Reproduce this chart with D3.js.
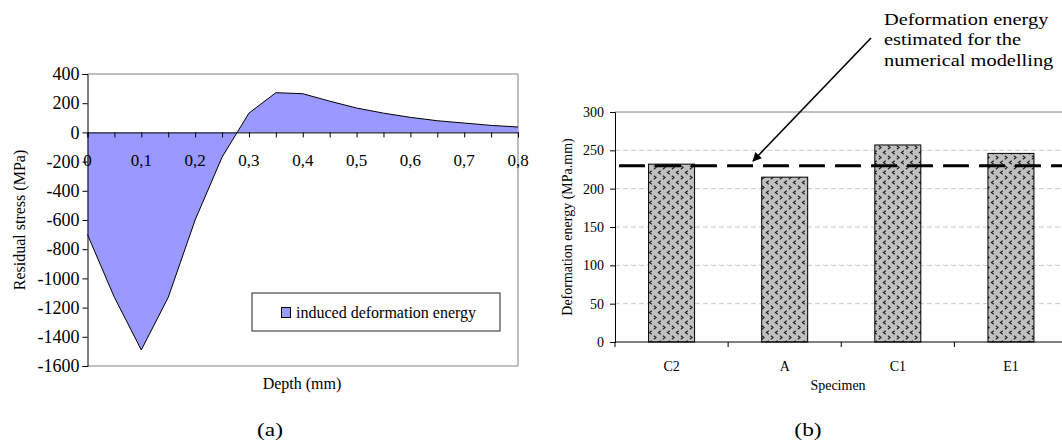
<!DOCTYPE html>
<html>
<head>
<meta charset="utf-8">
<script src="https://cdn.jsdelivr.net/npm/d3@7"></script>
<style>
  html, body { margin: 0; padding: 0; background: #fff; }
  svg { display: block; }
  text { font-family: "Liberation Serif", "Times New Roman", serif; fill: #000; }
</style>
</head>
<body>
<svg id="fig" width="1062" height="442"></svg>
<script>
// ---- (a) residual stress profile ----
const depth = [0, 0.05, 0.1, 0.15, 0.2, 0.25, 0.3, 0.35, 0.4, 0.45, 0.5, 0.55, 0.6, 0.65, 0.7, 0.75, 0.8];
const stress = [-700, -1130, -1490, -1130, -600, -170, 132, 272, 265, 214, 167, 132, 103, 80, 64, 48, 37];
const depthLabels = ["0", "0,1", "0,2", "0,3", "0,4", "0,5", "0,6", "0,7", "0,8"];
const depthLabelValues = [0, 0.1, 0.2, 0.3, 0.4, 0.5, 0.6, 0.7, 0.8];
const stressTicks = [400, 200, 0, -200, -400, -600, -800, -1000, -1200, -1400, -1600];

// ---- (b) deformation energy per specimen ----
const specimens = ["C2", "A", "C1", "E1"];
const energy = [232, 215, 257, 246];
const estimatedEnergy = 230;
const energyTicks = [0, 50, 100, 150, 200, 250, 300];
const noteLines = ["Deformation energy", "estimated for the", "numerical modelling"];

const svg = d3.select("#fig");

// pattern used to fill the bars
const defs = svg.append("defs");
const pat = defs.append("pattern")
  .attr("id", "chev").attr("patternUnits", "userSpaceOnUse")
  .attr("width", 9).attr("height", 10);
pat.append("rect").attr("width", 9).attr("height", 10).attr("fill", "#c0c0c0");
pat.append("path").attr("d", "M3.8,0.8 L1.4,2.5 L3.8,4.2").attr("fill", "none").attr("stroke", "#1a1a1a").attr("stroke-width", 1.1);
pat.append("path").attr("d", "M5.8,5.8 L8.2,7.5 L5.8,9.2").attr("fill", "none").attr("stroke", "#1a1a1a").attr("stroke-width", 1.1);

defs.append("marker").attr("id", "arrowhead")
  .attr("viewBox", "0 0 10 10").attr("refX", 9).attr("refY", 5)
  .attr("markerWidth", 11).attr("markerHeight", 9).attr("markerUnits", "userSpaceOnUse")
  .attr("orient", "auto")
  .append("path").attr("d", "M0,0 L10,5 L0,10 Z").attr("fill", "#000");

// =============== chart (a) ===============
const xA = d3.scaleLinear().domain([0, 0.8]).range([87.5, 518]);
const yA = d3.scaleLinear().domain([-1600, 400]).range([366, 74]);
const gA = svg.append("g");

// plot area frame
gA.append("path")
  .attr("d", `M${xA(0)},${yA(400)} H${xA(0.8)} V${yA(-1600)} H${xA(0)}`)
  .attr("fill", "none").attr("stroke", "#808080").attr("stroke-width", 1);

const area = d3.area().x((d, i) => xA(depth[i])).y0(yA(0)).y1(d => yA(d));
const line = d3.line().x((d, i) => xA(depth[i])).y(d => yA(d));
gA.append("path").attr("d", area(stress)).attr("fill", "#9999ff");
gA.append("path").attr("d", line(stress)).attr("fill", "none").attr("stroke", "#000").attr("stroke-width", 1);

// y axis
const yAxisA = d3.axisLeft(yA).tickValues(stressTicks).tickSize(5).tickPadding(3).tickFormat(d3.format("d"));
const gy = gA.append("g").attr("transform", `translate(${xA(0)},0)`).call(yAxisA);
gy.select(".domain").attr("stroke", "#000");
gy.selectAll("text").style("font-size", "18px").style("font-family", "Liberation Serif").attr("fill", "#000").text(d => d < 0 ? "-" + Math.abs(d) : d);

// x axis on the zero line: ticks every data point, labels every 0.1
const xAxisA = d3.axisBottom(xA).tickValues(depth).tickSize(5).tickFormat("");
const gx = gA.append("g").attr("transform", `translate(0,${yA(0)})`).call(xAxisA);
gx.select(".domain").attr("stroke", "#000");
gA.selectAll(".xlab").data(depthLabelValues).join("text")
  .attr("class", "xlab")
  .attr("x", d => xA(d)).attr("y", 160)
  .attr("text-anchor", "middle").attr("dominant-baseline", "central")
  .style("font-size", "17px")
  .text((d, i) => depthLabels[i]);

gA.append("text").attr("x", 302).attr("y", 389).attr("text-anchor", "middle")
  .style("font-size", "16px").text("Depth (mm)");
gA.append("text").attr("transform", `translate(25,${(yA(400) + yA(-1600)) / 2}) rotate(-90)`)
  .attr("text-anchor", "middle").style("font-size", "16px").text("Residual stress (MPa)");

// legend
gA.append("rect").attr("x", 252).attr("y", 293).attr("width", 248).attr("height", 38)
  .attr("fill", "#fff").attr("stroke", "#202020").attr("stroke-width", 1);
gA.append("rect").attr("x", 281.5).attr("y", 307.5).attr("width", 9).attr("height", 10)
  .attr("fill", "#9999ff").attr("stroke", "#000").attr("stroke-width", 1);
gA.append("text").attr("x", 296).attr("y", 318).style("font-size", "16px").text("induced deformation energy");

svg.append("text").attr("transform", "translate(270,436) scale(1.3,1)").attr("text-anchor", "middle")
  .style("font-size", "18px").text("(a)");

// =============== chart (b) ===============
const xB = d3.scaleBand().domain(specimens).range([615, 1067.5]);
const yB = d3.scaleLinear().domain([0, 300]).range([342, 112]);
const gB = svg.append("g");
const barW = 46;

// gridlines
gB.selectAll(".grid").data(energyTicks.filter(v => v > 0 && v < 300)).join("line")
  .attr("x1", 615).attr("x2", 1062).attr("y1", d => yB(d)).attr("y2", d => yB(d))
  .attr("stroke", "#c8c8c8").attr("stroke-width", 1).attr("stroke-dasharray", "5,3");
gB.append("line").attr("x1", 615).attr("x2", 1062).attr("y1", yB(300)).attr("y2", yB(300))
  .attr("stroke", "#808080").attr("stroke-width", 1);

// bars
gB.selectAll(".bar").data(energy).join("rect")
  .attr("x", (d, i) => xB(specimens[i]) + xB.bandwidth() / 2 - barW / 2)
  .attr("y", d => yB(d)).attr("width", barW).attr("height", d => yB(0) - yB(d))
  .attr("fill", "url(#chev)").attr("stroke", "#000").attr("stroke-width", 1);

// estimated energy reference line
gB.append("line").attr("x1", 619).attr("x2", 1070)
  .attr("y1", yB(estimatedEnergy)).attr("y2", yB(estimatedEnergy))
  .attr("stroke", "#000").attr("stroke-width", 3).attr("stroke-dasharray", "26,10");

// axes
const yAxisB = d3.axisLeft(yB).tickValues(energyTicks).tickSize(5).tickPadding(6);
const gyB = gB.append("g").attr("transform", "translate(615,0)").call(yAxisB);
gyB.selectAll("text").style("font-size", "14px").style("font-family", "Liberation Serif").attr("fill", "#000");

gB.append("line").attr("x1", 615).attr("x2", 1062).attr("y1", yB(0)).attr("y2", yB(0)).attr("stroke", "#000");
gB.selectAll(".ctick").data(specimens).join("line")
  .attr("x1", d => xB(d)).attr("x2", d => xB(d)).attr("y1", yB(0)).attr("y2", yB(0) + 5).attr("stroke", "#000");
gB.selectAll(".clab").data(specimens).join("text")
  .attr("x", d => xB(d) + xB.bandwidth() / 2).attr("y", 371).attr("text-anchor", "middle")
  .style("font-size", "14px").text(d => d);
gB.append("text").attr("x", 838).attr("y", 390).attr("text-anchor", "middle")
  .style("font-size", "14px").text("Specimen");
gB.append("text").attr("transform", `translate(572,${(yB(0) + yB(300)) / 2}) rotate(-90)`)
  .attr("text-anchor", "middle").style("font-size", "14px").text("Deformation energy (MPa.mm)");

// annotation with arrow (text widened to the figure's proportions)
gB.selectAll(".note").data(noteLines).join("text")
  .attr("transform", (d, i) => `translate(884,${24.5 + i * 20.5}) scale(1.2,1)`)
  .style("font-size", "17px").text(d => d);
gB.append("line").attr("x1", 871).attr("y1", 38).attr("x2", 753).attr("y2", 161)
  .attr("stroke", "#000").attr("stroke-width", 1.6).attr("marker-end", "url(#arrowhead)");

svg.append("text").attr("transform", "translate(808,436) scale(1.3,1)").attr("text-anchor", "middle")
  .style("font-size", "18px").text("(b)");
</script>
</body>
</html>
